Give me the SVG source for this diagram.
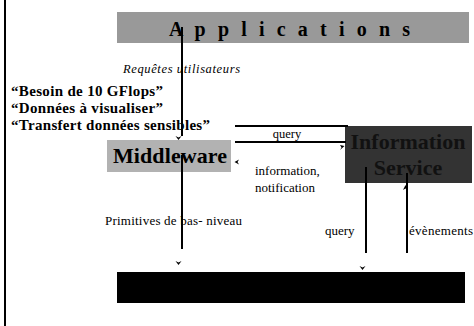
<svg xmlns="http://www.w3.org/2000/svg" width="474" height="326" viewBox="0 0 474 326">
<style>
.t{font-family:"Liberation Serif","Times New Roman",serif;fill:#000}
.b{font-weight:bold}
.ln{stroke:#000;stroke-width:2;fill:none}
.ah{fill:#000}
</style>
<rect width="474" height="326" fill="#fff"/>
<line x1="5" y1="0" x2="5" y2="326" stroke="#000" stroke-width="2"/>
<g id="applications">
<rect x="117" y="12" width="352" height="31" fill="#999999"/>
<text class="t b" x="169" y="36" font-size="20" textLength="241" lengthAdjust="spacing">A p p l i c a t i o n s</text>
</g>
<g id="middleware">
<rect x="107" y="140" width="124" height="32" fill="#b2b2b2"/>
<text class="t b" x="113" y="163" font-size="22" textLength="114">Middleware</text>
</g>
<g id="information-service">
<rect x="345" y="126" width="127" height="57" fill="#333333"/>
<text class="t b" x="408" y="149" font-size="22" text-anchor="middle" style="fill:#111">Information</text>
<text class="t b" x="408" y="175" font-size="22" text-anchor="middle" style="fill:#111">Service</text>
</g>
<g id="bottom-layer">
<rect x="117" y="272" width="348" height="31" fill="#000"/>
</g>
<g id="labels">
<text class="t" x="123" y="73" font-size="12.5" font-style="italic" textLength="117">Requêtes utilisateurs</text>
<text class="t b" x="11" y="96" font-size="15" textLength="152">“Besoin de 10 GFlops”</text>
<text class="t b" x="11" y="113" font-size="15" textLength="152">“Données à visualiser”</text>
<text class="t b" x="11" y="130" font-size="15" textLength="199">“Transfert données sensibles”</text>
<text class="t" x="287" y="138" font-size="12.5" text-anchor="middle">query</text>
<text class="t" x="255" y="175" font-size="13">information,</text>
<text class="t" x="255" y="192" font-size="13">notification</text>
<text class="t" x="105" y="225" font-size="13" textLength="137">Primitives de bas- niveau</text>
<text class="t" x="325" y="235" font-size="13">query</text>
<text class="t" x="409" y="235" font-size="13" textLength="64">évènements</text>
</g>
<g id="connectors">
<path class="ln" d="M182 27V136"/>
<path class="ln" d="M182 155V249"/>
<path class="ln" d="M235 126H348"/>
<path class="ln" d="M235 142H346"/>
<path class="ln" d="M366 167V253"/>
<path class="ln" d="M407 173V253"/>
<polygon class="ah" points="175.5,136 178.5,137.5 181.5,136 178.5,140"/>
<polygon class="ah" points="175.5,261 178.5,262.5 181.5,261 178.5,265"/>
<polygon class="ah" points="359.5,266 362.5,267.5 365.5,266 362.5,270"/>
<polygon class="ah" points="403,190 405.5,188.5 408,190 405.5,185"/>
<polygon class="ah" points="239,159.5 237.5,162 239,164.5 234.5,162"/>
<polygon class="ah" points="340,145 341.5,147.5 340,150 344.5,146"/>
</g>
</svg>
